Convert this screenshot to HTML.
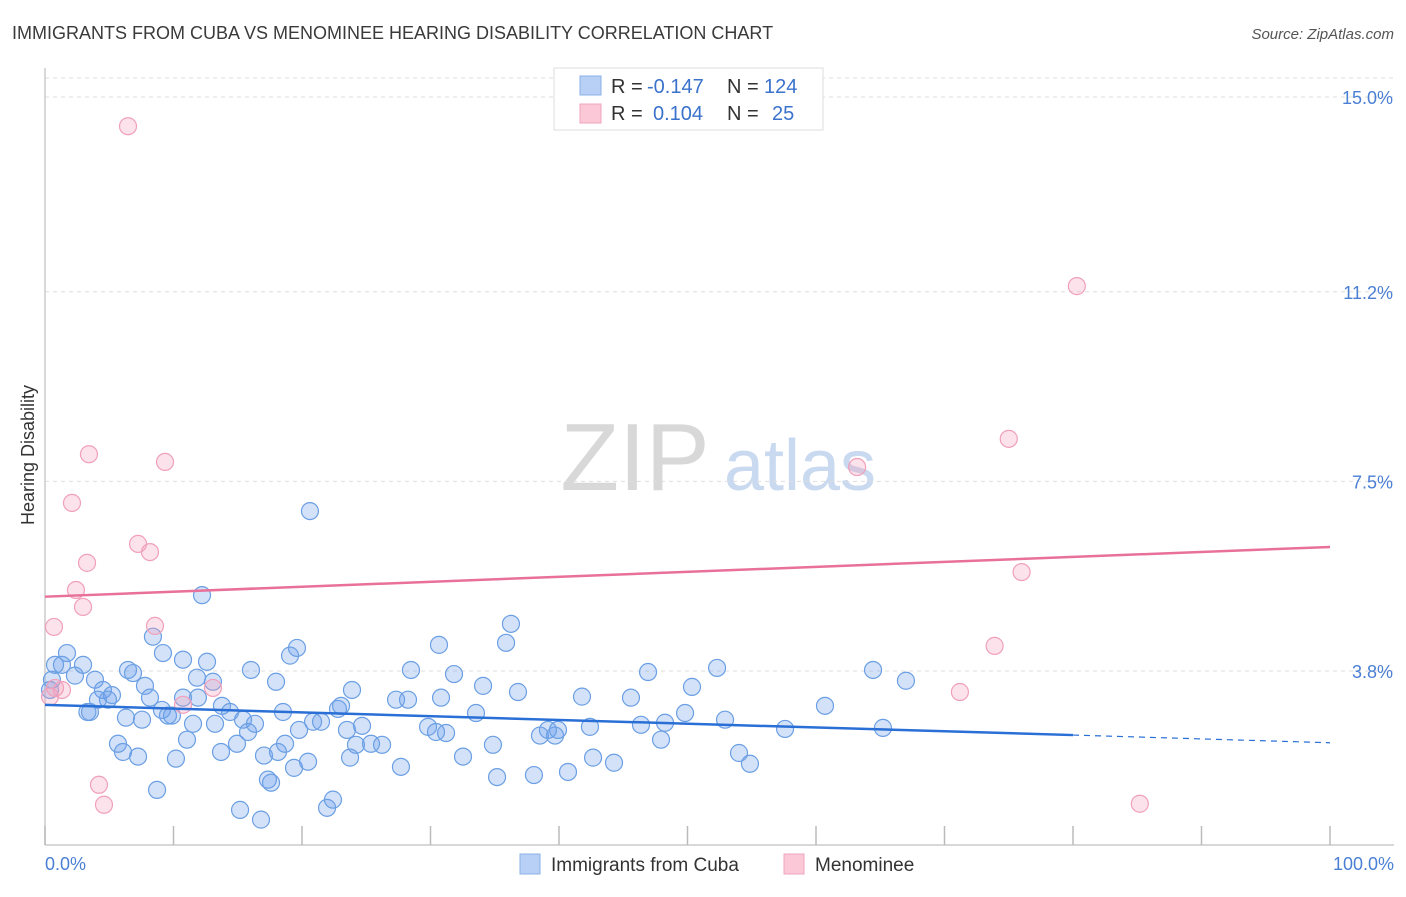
<!DOCTYPE html>
<html><head><meta charset="utf-8"><style>
body{margin:0;background:#fff;font-family:"Liberation Sans",sans-serif;}
svg text{font-family:"Liberation Sans",sans-serif;}
</style></head><body>
<svg id="chart" width="1406" height="892" viewBox="0 0 1406 892" xmlns="http://www.w3.org/2000/svg">
<text x="12" y="39" font-size="18" fill="#3a3a3a">IMMIGRANTS FROM CUBA VS MENOMINEE HEARING DISABILITY CORRELATION CHART</text>
<text x="1394" y="39" font-size="15" font-style="italic" fill="#555" text-anchor="end">Source: ZipAtlas.com</text>
<g>
<text x="635" y="490" font-size="96" font-family="Liberation Serif" fill="#d8d8d8" text-anchor="middle">ZIP</text>
<text x="800" y="490" font-size="72" fill="#c9d9f0" text-anchor="middle">atlas</text>
</g>
<g id="grid"></g>
<line x1="45" y1="68" x2="45" y2="845" stroke="#ccc" stroke-width="1.5"/>
<line x1="45" y1="845" x2="1394" y2="845" stroke="#ccc" stroke-width="1.5"/>
<g id="xticks"></g>
<text transform="translate(34,455) rotate(-90)" font-size="18" fill="#333" text-anchor="middle">Hearing Disability</text>
<text x="45" y="870" font-size="18" fill="#4a7fd4">0.0%</text>
<text x="1394" y="870" font-size="18" fill="#4a7fd4" text-anchor="end">100.0%</text>
<g id="points"></g>
<g id="trends"></g>
<g>
<rect x="554" y="68" width="269" height="62" fill="#fff" stroke="#ddd"/>
<rect x="580" y="76" width="21" height="19" fill="#b8d0f5" stroke="#8ab0e8"/>
<text x="611" y="93" font-size="20" fill="#333">R = </text><text x="647" y="93" font-size="20" fill="#3a72cc">-0.147</text>
<text x="727" y="93" font-size="20" fill="#333">N = </text><text x="764" y="93" font-size="20" fill="#3a72cc">124</text>
<rect x="580" y="104" width="21" height="19" fill="#fac8d6" stroke="#f0a4bc"/>
<text x="611" y="120" font-size="20" fill="#333">R = </text><text x="653" y="120" font-size="20" fill="#3a72cc">0.104</text>
<text x="727" y="120" font-size="20" fill="#333">N = </text><text x="772" y="120" font-size="20" fill="#3a72cc">25</text>
</g>
<g>
<rect x="520" y="854" width="20" height="20" fill="#b8d0f5" stroke="#8ab0e8"/>
<text x="551" y="871" font-size="19" fill="#333">Immigrants from Cuba</text>
<rect x="784" y="854" width="20" height="20" fill="#fac8d6" stroke="#f0a4bc"/>
<text x="815" y="871" font-size="19" fill="#333">Menominee</text>
</g>
</svg>
<script>
const yTicks=[3.8,7.5,11.2,15.0];
const yTickLabels=["3.8%","7.5%","11.2%","15.0%"];
const xTicks=[0,10,20,30,40,50,60,70,80,90,100];
const cubaX=[0.78,1.32,1.71,2.33,2.96,0.54,0.39,3.89,4.51,5.21,4.9,4.12,3.5,3.3,6.46,6.85,7.78,8.4,9.18,10.74,12.61,11.83,13.07,10.74,11.9,8.17,9.1,9.88,9.57,11.52,13.23,13.77,14.4,15.41,16.34,15.8,6.3,7.55,5.68,6.07,7.24,10.19,11.05,13.7,14.94,17.04,18.13,18.68,19.38,20.47,8.72,17.35,17.59,15.18,16.81,21.95,22.41,16.03,17.98,19.07,19.61,18.52,19.77,20.86,21.48,22.8,23.04,23.89,24.67,23.5,24.2,23.74,25.37,26.23,27.7,27.32,28.25,28.48,30.66,30.82,31.83,33.54,34.09,29.81,30.43,31.21,32.53,34.86,35.18,36.26,35.88,36.81,38.05,38.52,39.14,39.69,39.92,40.7,41.79,42.41,42.65,44.28,45.6,46.93,46.38,47.94,48.25,49.81,50.35,52.3,52.92,54.01,54.86,60.7,57.59,64.44,67.0,65.21,20.62,12.22];
const cubaY=[3.92,3.92,4.15,3.71,3.92,3.63,3.43,3.63,3.43,3.33,3.24,3.24,3.0,3.0,3.82,3.76,3.51,4.47,4.15,4.02,3.98,3.67,3.59,3.28,3.28,3.28,3.04,2.93,2.93,2.77,2.77,3.12,3.0,2.85,2.77,2.61,2.89,2.85,2.38,2.22,2.13,2.09,2.46,2.22,2.38,2.15,2.22,2.38,1.91,2.03,1.48,1.68,1.62,1.09,0.9,1.13,1.29,3.82,3.59,4.1,4.25,3.0,2.65,2.81,2.81,3.06,3.12,3.43,2.73,2.65,2.36,2.11,2.38,2.36,1.93,3.24,3.24,3.82,4.31,3.28,3.74,2.98,3.51,2.71,2.61,2.59,2.13,2.36,1.73,4.72,4.35,3.39,1.77,2.54,2.65,2.54,2.65,1.83,3.3,2.71,2.11,2.01,3.28,3.78,2.75,2.46,2.79,2.98,3.49,3.86,2.85,2.2,1.99,3.12,2.67,3.82,3.61,2.69,6.92,5.28];
const menX=[6.46,3.42,9.34,2.1,7.24,8.17,3.27,2.41,2.96,0.7,8.56,1.32,13.07,10.74,4.2,4.59,0.39,80.3,75.0,63.2,76.0,73.9,71.2,85.2,0.78];
const menY=[14.43,8.03,7.88,7.08,6.28,6.12,5.91,5.38,5.05,4.66,4.68,3.43,3.47,3.14,1.58,1.19,3.3,11.31,8.33,7.78,5.73,4.29,3.39,1.21,3.47];
const cubaTrend=[3.14,2.55,2.40]; // at x=0, 80, 100
const menTrend=[5.25,6.22]; // at x=0, 100
const NS="http://www.w3.org/2000/svg";
function sx(v){return 45+v*12.85;}
function sy(v){return 865.75-v*51.25;}
function mk(tag,parent,attrs){const e=document.createElementNS(NS,tag);for(const k in attrs)e.setAttribute(k,attrs[k]);parent.appendChild(e);return e;}
const grid=document.getElementById('grid');
yTicks.forEach((t,i)=>{
 const l=mk('line',grid,{x1:45,x2:1394,y1:sy(t),y2:sy(t),stroke:'#ddd','stroke-dasharray':'4,4'});
 
 
 const tx=mk('text',grid,{x:1393,y:sy(t)+7,'font-size':18,fill:'#4a7fd4','text-anchor':'end'});
 tx.textContent=yTickLabels[i];
 
 
});
const tg=mk('line',grid,{x1:45,x2:1394,y1:78,y2:78,stroke:'#ddd','stroke-dasharray':'4,4'});


const xt=document.getElementById('xticks');
xTicks.forEach(t=>{
 const l=mk('line',xt,{x1:sx(t),x2:sx(t),y1:826,y2:845,stroke:'#bbb','stroke-width':1.5});
 
 
});
const pg=document.getElementById('points');
cubaX.forEach((x,i)=>{
 const c=mk('circle',pg,{cx:sx(x),cy:sy(cubaY[i]),r:8.5,fill:'rgba(110,160,235,0.3)',stroke:'#6b9fe3','stroke-width':1.2});
 
 
});
menX.forEach((x,i)=>{
 const c=mk('circle',pg,{cx:sx(x),cy:sy(menY[i]),r:8.5,fill:'rgba(245,160,185,0.3)',stroke:'#f0a0ba','stroke-width':1.2});
 
 
});
const tr=document.getElementById('trends');
const b1=mk('line',tr,{x1:sx(0),y1:sy(cubaTrend[0]),x2:sx(80),y2:sy(cubaTrend[1]),stroke:'#2a6fd6','stroke-width':2.5});


const b2=mk('line',tr,{x1:sx(80),y1:sy(cubaTrend[1]),x2:sx(100),y2:sy(cubaTrend[2]),stroke:'#2a6fd6','stroke-width':1.2,'stroke-dasharray':'6,5'});


const p1=mk('line',tr,{x1:sx(0),y1:sy(menTrend[0]),x2:sx(100),y2:sy(menTrend[1]),stroke:'#e8709a','stroke-width':2.5});


</script>
</body></html>
